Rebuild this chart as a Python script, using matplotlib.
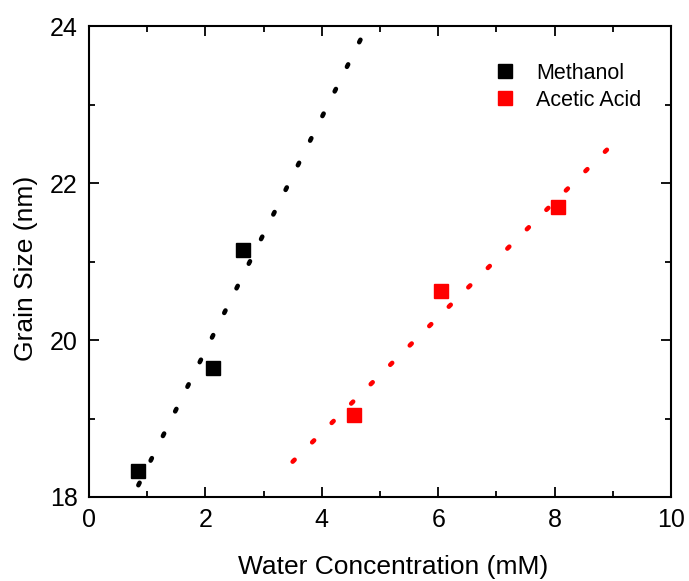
import numpy as np
import matplotlib
matplotlib.use("Agg")
import matplotlib.pyplot as plt

plt.rcParams['font.family'] = ['Liberation Sans', 'DejaVu Sans']

# datos
meth_x = [0.85, 2.13, 2.65]
meth_y = [18.33, 19.65, 21.15]
acet_x = [4.55, 6.05, 8.05]
acet_y = [19.05, 20.63, 21.70]

# extremos de las rectas de ajuste
meth_fit_x = [0.85, 4.68]
meth_fit_y = [18.15, 23.85]
acet_fit_x = [3.5, 9.0]
acet_fit_y = [18.45, 22.50]

fig = plt.figure(figsize=(6.89, 5.81), dpi=100)
ax = fig.add_axes([0.129, 0.1446, 0.845, 0.8104])

dots = (0, (0.6, 5.4))
ax.plot(meth_fit_x, meth_fit_y, color="black", lw=3.3, linestyle=dots, dash_capstyle="round")
ax.plot(acet_fit_x, acet_fit_y, color="red", lw=3.3, linestyle=dots, dash_capstyle="round")
ax.plot(meth_x, meth_y, "s", color="black", ms=10.5, label="Methanol")
ax.plot(acet_x, acet_y, "s", color="red", ms=10.5, label="Acetic Acid")

ax.set_xlim(0, 10)
ax.set_ylim(18, 24)
ax.set_xticks(np.arange(0, 11, 2))
ax.set_yticks(np.arange(18, 25, 2))
ax.set_xticks(np.arange(1, 10, 2), minor=True)
ax.set_yticks(np.arange(19, 24, 2), minor=True)
ax.tick_params(which="both", direction="in", top=True, right=True, width=1.3, labelsize=18, pad=8)
ax.tick_params(which="major", length=7)
ax.tick_params(which="minor", length=4)
for s in ax.spines.values():
    s.set_linewidth(1.5)

ax.set_xlabel("Water Concentration (mM)", fontsize=19)
ax.set_ylabel("Grain Size (nm)", fontsize=19)
ax.xaxis.set_label_coords(0.522, -0.123)
ax.yaxis.set_label_coords(-0.088, 0.486)

ax.legend(loc="upper right", bbox_to_anchor=(0.964, 0.941), frameon=False, fontsize=15.5,
          handletextpad=0.95, handlelength=1.0, labelspacing=0.3, borderaxespad=0)

fig.savefig("out.png", dpi=100)
